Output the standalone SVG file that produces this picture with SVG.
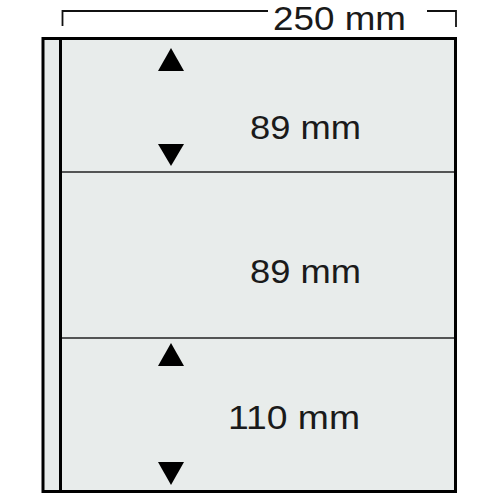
<svg xmlns="http://www.w3.org/2000/svg" width="500" height="500" viewBox="0 0 500 500">
<style>
.lbl{font-family:"Liberation Sans",Arial,sans-serif;font-size:33px;fill:#1a1a1a}
.dim{fill:none;stroke:#111;stroke-width:1.8}
.tri{fill:#000}
</style>
<rect width="500" height="500" fill="#fff"/>
<g id="sheet">
<rect x="43" y="38.5" width="412.5" height="453" fill="#e8eceb" stroke="#000" stroke-width="3"/>
<line x1="60.5" y1="38.5" x2="60.5" y2="491.5" stroke="#000" stroke-width="3"/>
</g>
<g id="dividers">
<line x1="62" y1="172" x2="454" y2="172" stroke="#222" stroke-width="1.5"/>
<line x1="62" y1="338" x2="454" y2="338" stroke="#222" stroke-width="1.5"/>
</g>
<g id="dimension">
<polyline class="dim" points="62.5,26 62.5,11 268,11"/>
<polyline class="dim" points="427,11 456,11 456,27"/>
<text class="lbl" x="273" y="30" font-size="34" textLength="133" lengthAdjust="spacingAndGlyphs">250 mm</text>
</g>
<g id="row1">
<polygon class="tri" points="171,48 158,71 184,71"/>
<polygon class="tri" points="158,144 184,144 171,166"/>
<text class="lbl" x="250" y="138.5" textLength="111" lengthAdjust="spacingAndGlyphs">89 mm</text>
</g>
<g id="row2">
<text class="lbl" x="250" y="283" textLength="111" lengthAdjust="spacingAndGlyphs">89 mm</text>
</g>
<g id="row3">
<polygon class="tri" points="171,343 158,366 184,366"/>
<polygon class="tri" points="158,462 184,462 171,485"/>
<text class="lbl" x="228" y="428.5" textLength="132" lengthAdjust="spacingAndGlyphs">110 mm</text>
</g>
</svg>
